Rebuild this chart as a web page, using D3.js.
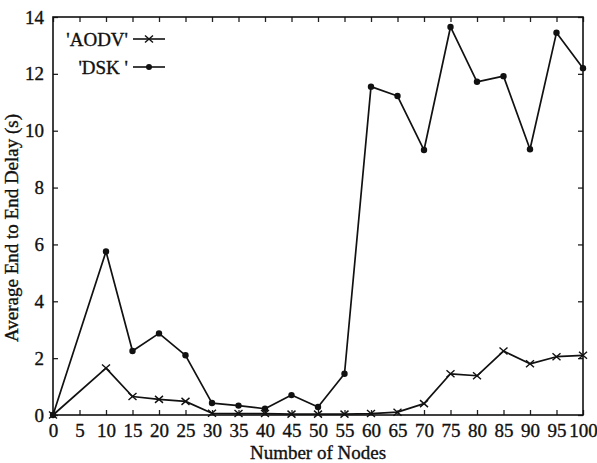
<!DOCTYPE html>
<html>
<head>
<meta charset="utf-8">
<script src="https://cdn.jsdelivr.net/npm/d3@7"></script>
<style>
body { margin: 0; background: #fff; }
svg text { font-family: "Liberation Serif", "Times New Roman", serif !important; fill: #111; stroke: #111; stroke-width: 0.35px; }
</style>
</head>
<body>
<svg width="597" height="463"></svg>
<script>
var nodes = [0, 10, 15, 20, 25, 30, 35, 40, 45, 50, 55, 60, 65, 70, 75, 80, 85, 90, 95, 100];
var aodv = [0, 1.65, 0.65, 0.55, 0.48, 0.06, 0.05, 0.05, 0.03, 0.03, 0.03, 0.05, 0.1, 0.4, 1.45, 1.38, 2.25, 1.8, 2.05, 2.1];
var dsk = [0, 5.75, 2.25, 2.87, 2.1, 0.42, 0.33, 0.22, 0.7, 0.28, 1.45, 11.55, 11.22, 9.32, 13.65, 11.72, 11.92, 9.35, 13.45, 12.2];
var xTicks = d3.range(0, 101, 5);
var yTicks = [0, 2, 4, 6, 8, 10, 12, 14];

var svg = d3.select("svg");
var margin = { top: 17, right: 14, bottom: 48, left: 53 },
	width = 597 - margin.left - margin.right,
	height = 463 - margin.top - margin.bottom;

var xScale = d3.scaleLinear().domain([0, 100]).range([0, width]);
var yScale = d3.scaleLinear().domain([0, 14]).range([height, 0]);

var g = svg.append("g").attr("transform", "translate(" + margin.left + "," + margin.top + ")");

// inward ticks on all four sides
var xAxis = d3.axisBottom(xScale).tickValues(xTicks).tickSizeInner(-5).tickSizeOuter(0).tickPadding(9);
var yAxis = d3.axisLeft(yScale).tickValues(yTicks).tickSizeInner(-5).tickSizeOuter(0).tickPadding(9);

g.append("g").attr("transform", "translate(0," + height + ")").call(xAxis)
	.call(function(s) { s.selectAll("text").style("font-size", "19px"); });
g.append("g").call(yAxis)
	.call(function(s) { s.selectAll("text").style("font-size", "19px"); });
g.append("g").call(d3.axisTop(xScale).tickValues(xTicks).tickSizeInner(-5).tickSizeOuter(0).tickFormat(""));
g.append("g").attr("transform", "translate(" + width + ",0)")
	.call(d3.axisRight(yScale).tickValues(yTicks).tickSizeInner(-5).tickSizeOuter(0).tickFormat(""));
g.selectAll(".domain").remove();
g.selectAll(".tick line").attr("stroke", "#222").attr("stroke-width", 1.3);

g.append("rect")
	.attr("width", width).attr("height", height)
	.attr("fill", "none").attr("stroke", "#111").attr("stroke-width", 1.6);

g.append("text")
	.attr("x", width / 2).attr("y", height + 44)
	.style("text-anchor", "middle").style("font-size", "19px")
	.text("Number of Nodes");

g.append("text")
	.attr("transform", "rotate(-90)")
	.attr("x", -height / 2 - 12).attr("y", -35)
	.style("text-anchor", "middle").style("font-size", "19px")
	.text("Average End to End Delay (s)");

var line = d3.line()
	.x(function(d) { return xScale(d[0]); })
	.y(function(d) { return yScale(d[1]); });

function series(vals) { return nodes.map(function(n, i) { return [n, vals[i]]; }); }

var aodvData = series(aodv), dskData = series(dsk);

[aodvData, dskData].forEach(function(data) {
	g.append("path").datum(data)
		.attr("fill", "none").attr("stroke", "#111")
		.attr("stroke-width", 1.7).attr("stroke-linejoin", "round")
		.attr("d", line);
});

function cross(sel, x, y) {
	sel.append("path")
		.attr("d", "M" + (x - 4) + "," + (y - 3.5) + "L" + (x + 4) + "," + (y + 3.5) +
			"M" + (x - 4) + "," + (y + 3.5) + "L" + (x + 4) + "," + (y - 3.5))
		.attr("stroke", "#111").attr("stroke-width", 1.4);
}

aodvData.forEach(function(d) { cross(g, xScale(d[0]), yScale(d[1])); });

g.selectAll(".dsk").data(dskData).enter().append("circle")
	.attr("class", "dsk")
	.attr("cx", function(d) { return xScale(d[0]); })
	.attr("cy", function(d) { return yScale(d[1]); })
	.attr("r", 3.2).attr("fill", "#111");

// legend
var lg = g.append("g");
var rows = [{ name: "'AODV'", y: 22, mark: "x" }, { name: "'DSK '", y: 50, mark: "o" }];
rows.forEach(function(r) {
	lg.append("text").attr("x", 75).attr("y", r.y)
		.attr("dy", "0.35em").style("text-anchor", "end").style("font-size", "19px")
		.text(r.name);
	lg.append("line").attr("x1", 80).attr("x2", 112).attr("y1", r.y).attr("y2", r.y)
		.attr("stroke", "#111").attr("stroke-width", 1.6);
	if (r.mark == "x") cross(lg, 96, r.y);
	else lg.append("circle").attr("cx", 96).attr("cy", r.y).attr("r", 3).attr("fill", "#111");
});
</script>
</body>
</html>
